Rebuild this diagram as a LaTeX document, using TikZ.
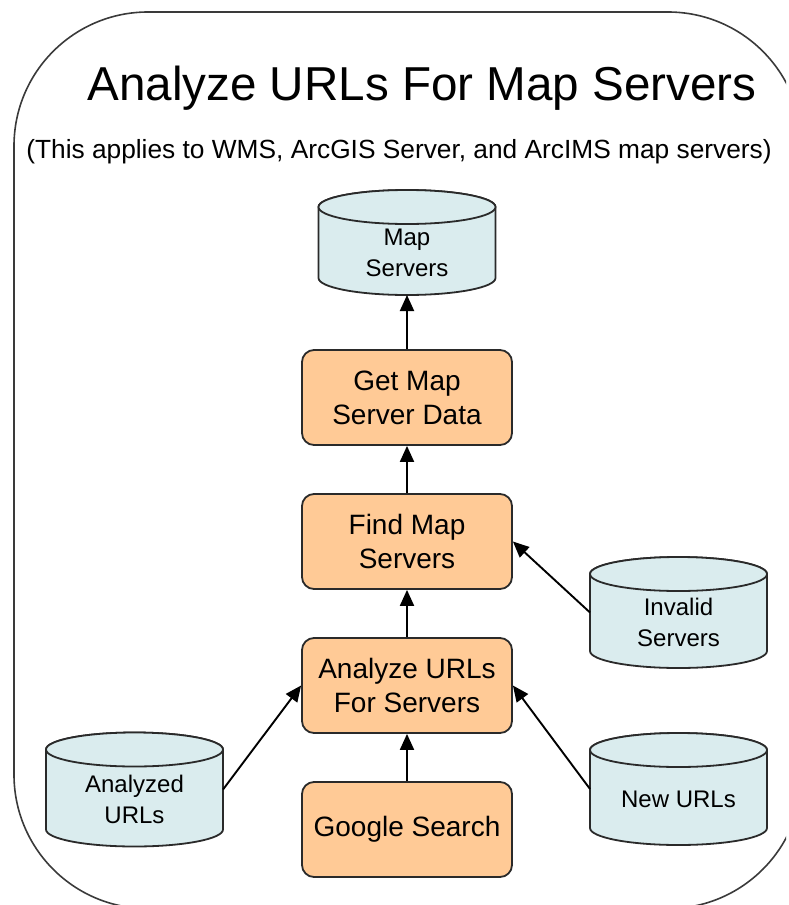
\documentclass[tikz,border=0pt]{standalone}
\usepackage{fontspec}
\setmainfont{Liberation Sans}
\usetikzlibrary{arrows.meta,calc}

\definecolor{procfill}{HTML}{FFCA96}
\definecolor{dbfill}{HTML}{DAECEE}
\definecolor{edge}{HTML}{2A2A2A}
\definecolor{framecol}{HTML}{3A3A3A}

\tikzset{
  procbox/.style={draw=edge, line width=1.8pt, fill=procfill, rounded corners=12pt,
    minimum width=210pt, minimum height=95pt, inner sep=0pt, align=center,
    font=\fontsize{28}{34}\selectfont},
  dbshape/.style={rectangle, inner sep=0pt, outer sep=0pt},
  dbbody/.style={draw=edge, line width=1.8pt, fill=dbfill},
  dbtext/.style={align=center, inner sep=0pt, font=\fontsize{24}{31}\selectfont},
  flow/.style={line width=1.9pt, draw=black,
    -{Triangle[length=16pt, width=14pt]}},
  outerframe/.style={draw=framecol, line width=1.6pt, rounded corners=134pt}
}

% data store drawn as a cylinder: name, centre x, centre y, width, height, label
\newcommand{\dbcyl}[6]{%
  \node[dbshape, minimum width=#4pt, minimum height=#5pt] (#1) at (#2,#3) {};
  \filldraw[dbbody] ([yshift=-17pt]#1.north west) -- ([yshift=17pt]#1.south west)
     arc[start angle=180, end angle=360, x radius=#4pt/2, y radius=17pt]
     -- ([yshift=-17pt]#1.north east)
     arc[start angle=0, end angle=180, x radius=#4pt/2, y radius=17pt] -- cycle;
  \draw[dbbody] ([yshift=-17pt]#1.north) ellipse[x radius=#4pt/2, y radius=17pt];
  \node[dbtext] (#1-label) at ([yshift=-10pt]#1.center) {#6};
}

\begin{document}
\begin{tikzpicture}[x=1pt, y=-1pt]
  \useasboundingbox (0,0) rectangle (788,905);

  % enclosing frame, its right side runs past the page edge
  \begin{scope}
    \clip (0,0) rectangle (786,905);
    \draw[outerframe] (14,12) rectangle (802,908.6);
  \end{scope}

  % heading
  \node[anchor=base, inner sep=0pt, font=\fontsize{47.6}{56}\selectfont] (title)
    at (422,100) {Analyze URLs For Map Servers};
  \node[anchor=base, inner sep=0pt, font=\fontsize{26.3}{31}\selectfont] (subtitle)
    at (399,158) {(This applies to WMS, ArcGIS Server, and ArcIMS map servers)};

  % processes
  \node[procbox] (getdata)  at (407,397.5) {Get Map\\Server Data};
  \node[procbox] (findmap)  at (407,541.5) {Find Map\\Servers};
  \node[procbox] (analyze)  at (407,685.5) {Analyze URLs\\For Servers};
  \node[procbox] (google)   at (407,829.5) {Google Search};

  % data stores
  \dbcyl{mapservers}{407}{242.5}{177}{105}{Map\\Servers}
  \dbcyl{invalid}{678.5}{612.5}{177}{111}{Invalid\\Servers}
  \dbcyl{analyzed}{134.5}{789.5}{177}{114}{Analyzed\\URLs}
  \dbcyl{newurls}{678.5}{789}{177}{112}{New URLs}

  % flows
  \draw[flow] (getdata.north) -- (mapservers.south);
  \draw[flow] (findmap.north) -- (getdata.south);
  \draw[flow] (analyze.north) -- (findmap.south);
  \draw[flow] (google.north) -- (analyze.south);
  \draw[flow] (invalid.west) -- (findmap.east);
  \draw[flow] (analyzed.east) -- (analyze.west);
  \draw[flow] (newurls.west) -- (analyze.east);
\end{tikzpicture}
\end{document}
